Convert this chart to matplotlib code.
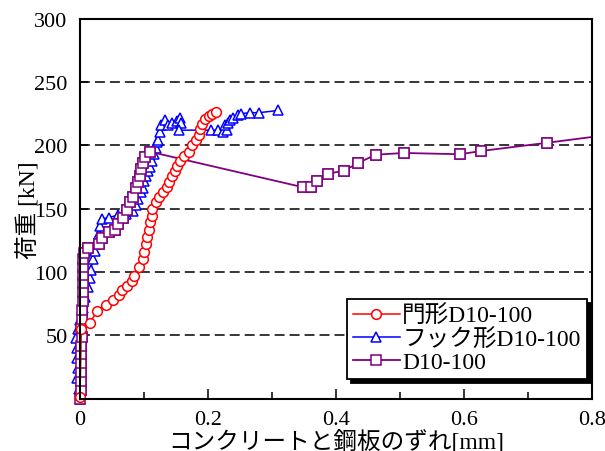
import matplotlib
matplotlib.use("Agg")
import matplotlib.pyplot as plt
from matplotlib.ticker import MultipleLocator

plt.rcParams['font.family'] = ['Liberation Serif', 'Noto Sans CJK JP', 'DejaVu Sans']

# 門形D10-100
mon_x = [0.0, 0.002, 0.015, 0.027, 0.04, 0.051, 0.061, 0.066, 0.074, 0.082, 0.085, 0.092,
         0.098, 0.100, 0.103, 0.105, 0.108, 0.110, 0.113, 0.113, 0.118, 0.123, 0.129, 0.136,
         0.139, 0.144, 0.149, 0.152, 0.157, 0.162, 0.170, 0.175, 0.181, 0.186, 0.188, 0.191,
         0.196, 0.201, 0.206, 0.212]
mon_y = [1, 55, 60, 69, 74, 78, 82, 85.5, 89, 93, 97, 104,
         110.5, 116, 122, 127.5, 133, 139.5, 144.5, 150, 155, 159, 163, 167,
         171, 176, 180, 184, 188, 192, 195, 200, 204, 208, 213, 217,
         221, 223.5, 225, 226.5]

# フック形D10-100
hook_x = [0.0, -0.002, -0.004, -0.003, -0.005, -0.004, -0.006, -0.003, 0.0, 0.004, 0.008,
          0.012, 0.015, 0.017, 0.020, 0.023, 0.026, 0.029, 0.032, 0.035, 0.045, 0.060,
          0.072, 0.083, 0.087, 0.090, 0.095, 0.098, 0.100, 0.103, 0.107, 0.110, 0.113,
          0.116, 0.118, 0.121, 0.122, 0.125, 0.127, 0.133, 0.138, 0.143, 0.151, 0.156,
          0.158, 0.155, 0.205, 0.216, 0.224, 0.229, 0.227, 0.231, 0.234, 0.239, 0.247,
          0.252, 0.265, 0.280, 0.310]
hook_y = [0, 8, 16, 24, 32, 40, 48, 55, 62, 72, 80,
          88, 95, 102, 110, 117, 124, 130, 136, 142, 143, 145,
          146, 148, 153, 158, 163, 166, 172, 176, 179.5, 183, 188,
          193, 198, 202.5, 204, 210.5, 216, 220, 216, 217.7, 219, 222,
          217.7, 212, 212, 212, 210.5, 212, 216, 217.6, 220, 221.7, 223.7,
          225, 225.8, 225.8, 227.6]

# D10-100
d_x = [0.0, 0.001, 0.001, 0.002, 0.001, 0.002, 0.002, 0.003, 0.002, 0.003, 0.003,
       0.004, 0.004, 0.005, 0.004, 0.005, 0.005, 0.006, 0.012, 0.030, 0.035,
       0.046, 0.055, 0.060, 0.067, 0.073, 0.078, 0.083, 0.088, 0.091, 0.093,
       0.096, 0.099, 0.101, 0.109, 0.348, 0.361, 0.371, 0.387, 0.413, 0.434,
       0.462, 0.506, 0.594, 0.626, 0.729, 0.860]
d_y = [0, 7, 14, 21, 28, 35, 42, 49, 56, 63, 70,
       77, 84, 91, 98, 104, 110, 115, 119, 122, 127,
       132, 133, 138, 143, 148.6, 155, 159, 166, 171, 176,
       181.6, 186, 191, 195, 167, 167, 172, 177.6, 180, 186,
       192.6, 194, 193, 195.5, 202, 210.5]

xticks = [0, 0.2, 0.4, 0.6, 0.8]
xticklabels = ['0', '0.2', '0.4', '0.6', '0.8']
yticks = [0, 50, 100, 150, 200, 250, 300]
yticklabels = ['', '50', '100', '150', '200', '250', '300']

fig = plt.figure(figsize=(6.05, 4.52), dpi=100)
ax = fig.add_axes([80/605, 1 - 399.7/452, 512/605, 380/452])
ax.set_xlim(0, 0.8)
ax.set_ylim(0, 300)

hook_style = dict(color='#0000ff', lw=1.1, marker='^', ms=7.5, mfc='white',
                  mec='#0000ff', mew=1.1)
d_style = dict(color='#800080', lw=1.3, marker='s', ms=6.5, mfc='white',
               mec='#800080', mew=1.1)
mon_style = dict(color='#ff0000', lw=1.1, marker='o', ms=7, mfc='white',
                 mec='#ff0000', mew=1.1)

h_hook, = ax.plot(hook_x, hook_y, zorder=3, clip_on=False, label='フック形D10-100', **hook_style)

in_range = [i for i, v in enumerate(d_x) if v <= 0.8]
h_d, = ax.plot(d_x, d_y, zorder=4, clip_on=True, markevery=in_range,
               label='D10-100', **d_style)
ax.plot([d_x[i] for i in in_range], [d_y[i] for i in in_range], ls='none',
        marker='s', ms=6.5, mfc='white', mec='#800080', mew=1.1, zorder=4, clip_on=False)

h_mon, = ax.plot(mon_x, mon_y, zorder=5, clip_on=False, label='門形D10-100', **mon_style)

ax.set_xticks(xticks)
ax.set_xticklabels(xticklabels)
ax.xaxis.set_minor_locator(MultipleLocator(0.1))
ax.set_yticks(yticks)
ax.set_yticklabels(yticklabels)
ax.tick_params(axis='both', which='both', direction='in', labelsize=16, width=1.1)
ax.tick_params(axis='x', which='major', length=7, pad=8)
ax.tick_params(axis='x', which='minor', length=5)
ax.tick_params(axis='y', which='major', length=6, pad=9)

for v in [50, 100, 150, 200, 250]:
    ax.axhline(v, color='black', lw=1.1, dashes=(6.5, 3.3), zorder=1)

for s in ax.spines.values():
    s.set_linewidth(1.5)
    s.set_zorder(6)

ax.set_xlabel('コンクリートと鋼板のずれ[mm]', fontsize=17)
ax.xaxis.set_label_coords(0.5, -0.08)
ax.set_ylabel('荷重 [kN]', fontsize=17)
ax.yaxis.set_label_coords(-0.078, 0.5)

leg = ax.legend([h_mon, h_hook, h_d], ['門形D10-100', 'フック形D10-100', 'D10-100'],
                loc='upper left', bbox_to_anchor=(0.521, 0.262), borderaxespad=0,
                fontsize=17, frameon=True, fancybox=False, edgecolor='black',
                framealpha=1, shadow={'color': 'black', 'alpha': 1, 'ox': 3, 'oy': -3},
                handlelength=2.0, handletextpad=0.1, labelspacing=0.05,
                borderpad=0.25)
leg.get_frame().set_linewidth(1.3)
leg.set_zorder(10)

fig.savefig('out.png', dpi=100)
